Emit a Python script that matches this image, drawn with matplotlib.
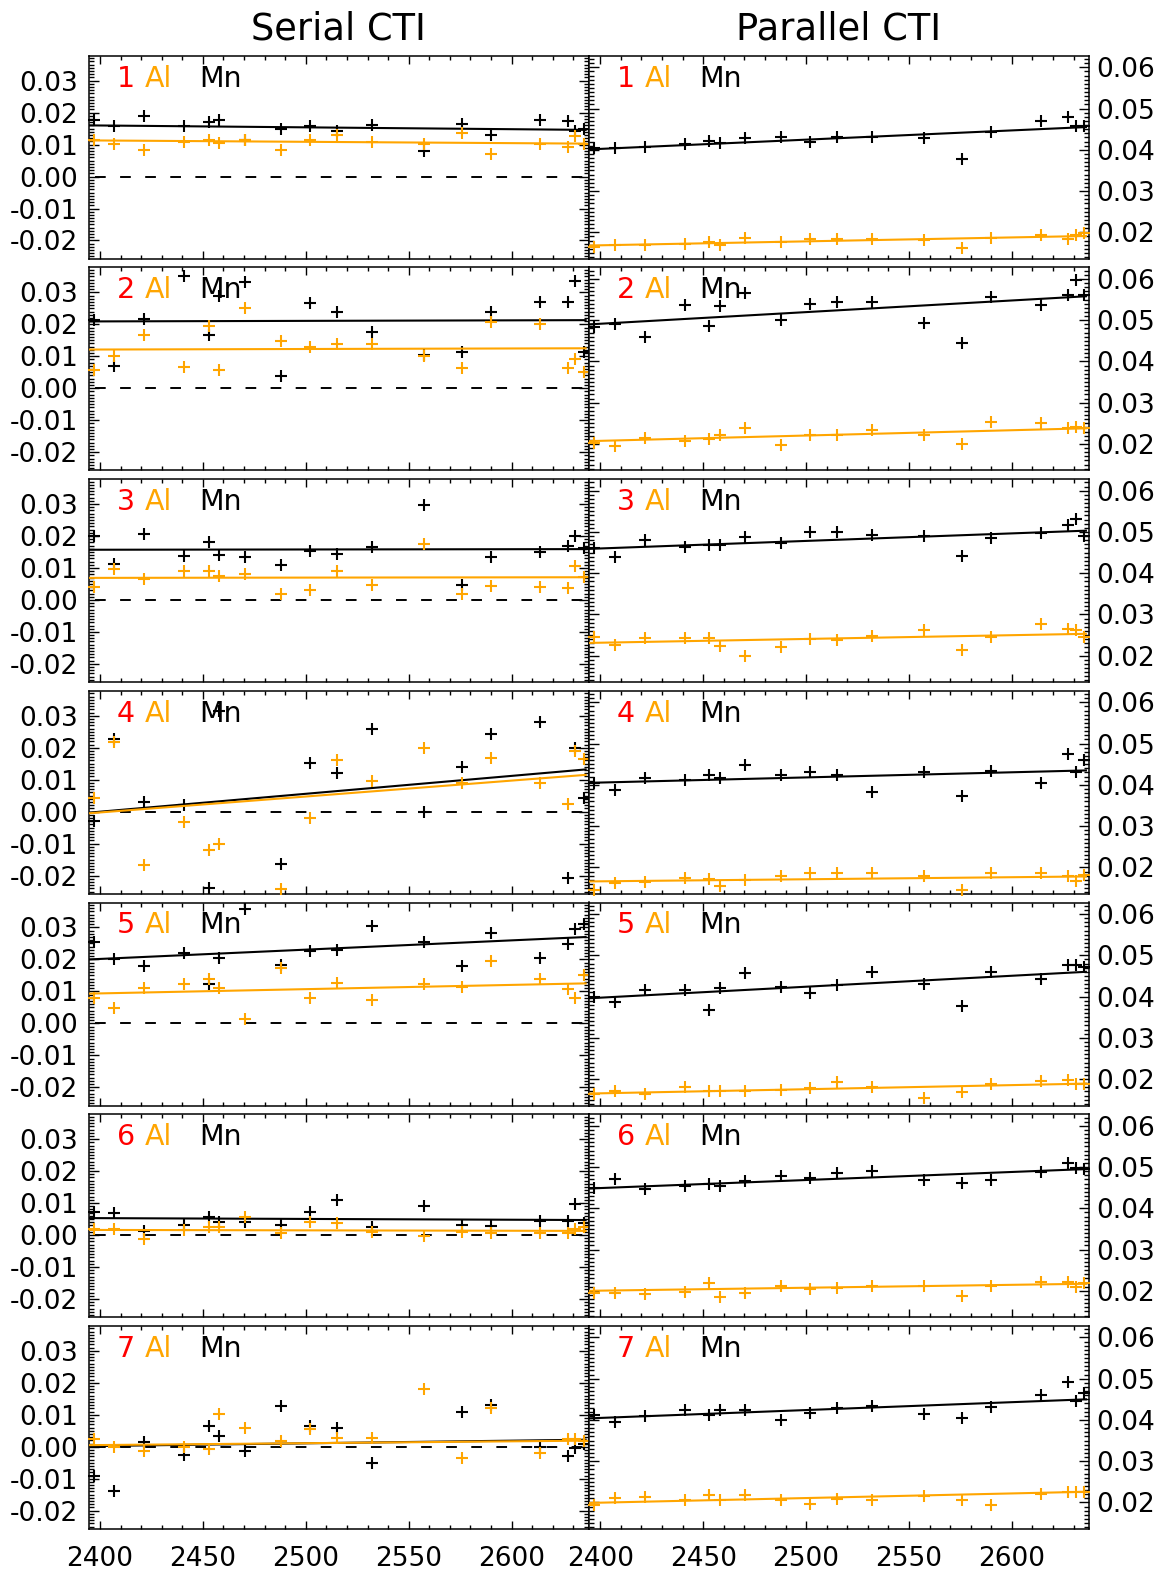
import numpy as np
import matplotlib
matplotlib.use("Agg")
import matplotlib.pyplot as plt
from matplotlib.ticker import MultipleLocator, FuncFormatter

plt.rcParams['font.family'] = ['DejaVu Sans']
plt.rcParams['axes.unicode_minus'] = False

nan = np.nan

# observation dates (same for every panel)
dates = [2397, 2407, 2421.5, 2441, 2453, 2458, 2470.5, 2488, 2502, 2515,
         2532, 2557.5, 2576, 2590, 2614, 2627.5, 2631, 2635]

# serial CTI, Mn (black)
serial_mn = [
    [0.0178, 0.0157, 0.0188, 0.0158, 0.0170, 0.0178, 0.0113, 0.0149, 0.0157, 0.0144, 0.0160, 0.0081, 0.0165, 0.0130, 0.0178, 0.0175, 0.0144, 0.0148],
    [0.0215, 0.0069, 0.0217, 0.0350, 0.0165, 0.0290, 0.0333, 0.0038, 0.0267, 0.0240, 0.0177, 0.0104, 0.0113, 0.0238, 0.0271, 0.0269, 0.0336, 0.0113],
    [0.0201, 0.0113, 0.0206, 0.0136, 0.0180, 0.0141, 0.0133, 0.0109, 0.0154, 0.0144, 0.0165, 0.0297, 0.0047, 0.0133, 0.0151, 0.0170, 0.0199, 0.0161],
    [-0.0029, 0.0226, 0.0031, 0.0021, -0.0240, 0.0315, nan, -0.0165, 0.0153, 0.0122, 0.0257, 0.0000, 0.0140, 0.0242, 0.0281, -0.0208, 0.0198, 0.0042],
    [0.0255, 0.0200, 0.0179, 0.0221, 0.0122, 0.0203, 0.0359, 0.0182, 0.0226, 0.0228, 0.0304, 0.0255, 0.0179, 0.0283, 0.0203, 0.0247, 0.0294, 0.0310],
    [0.0072, 0.0069, 0.0013, 0.0031, 0.0057, 0.0041, 0.0041, 0.0031, 0.0072, 0.0110, 0.0025, 0.0091, 0.0031, 0.0028, 0.0044, 0.0044, 0.0097, 0.0038],
    [-0.0091, -0.0138, 0.0014, -0.0025, 0.0065, 0.0035, -0.0013, 0.0126, 0.0066, 0.0059, -0.0052, nan, 0.0108, 0.0132, 0.0000, -0.0028, -0.0004, 0.0010],
]

# serial CTI, Al (orange)
serial_al = [
    [0.0115, 0.0102, 0.0084, 0.0108, 0.0115, 0.0105, 0.0113, 0.0084, 0.0113, 0.0130, 0.0108, 0.0102, 0.0136, 0.0071, 0.0102, 0.0092, 0.0128, 0.0102],
    [0.0058, 0.0102, 0.0167, 0.0066, 0.0194, 0.0058, 0.0250, 0.0148, 0.0128, 0.0139, 0.0139, 0.0102, 0.0063, 0.0208, 0.0201, 0.0063, 0.0090, 0.0050],
    [0.0040, 0.0097, 0.0064, 0.0092, 0.0092, 0.0074, 0.0081, 0.0019, 0.0032, 0.0089, 0.0047, 0.0175, 0.0019, 0.0043, 0.0040, 0.0036, 0.0107, 0.0071],
    [0.0042, 0.0219, -0.0167, -0.0031, -0.0121, -0.0100, nan, -0.0243, -0.0021, 0.0160, 0.0096, 0.0198, 0.0091, 0.0169, 0.0091, 0.0023, 0.0190, 0.0164],
    [0.0078, 0.0049, 0.0109, 0.0124, 0.0138, 0.0109, 0.0013, 0.0172, 0.0080, 0.0127, 0.0072, 0.0124, 0.0114, 0.0195, 0.0138, 0.0106, 0.0080, 0.0151],
    [0.0019, 0.0019, -0.0013, 0.0016, 0.0025, 0.0025, 0.0057, 0.0006, 0.0041, 0.0038, 0.0009, -0.0003, 0.0009, 0.0006, 0.0006, 0.0006, 0.0019, 0.0025],
    [0.0024, -0.0002, -0.0013, -0.0002, -0.0007, 0.0101, 0.0058, 0.0017, 0.0055, 0.0027, 0.0026, 0.0181, -0.0036, 0.0121, -0.0021, 0.0024, 0.0024, 0.0019],
]

# parallel CTI, Mn (black)
parallel_mn = [
    [0.0404, 0.0404, 0.0406, 0.0414, 0.0422, 0.0417, 0.0428, 0.0432, 0.0420, 0.0432, 0.0432, 0.0428, 0.0378, 0.0444, 0.0470, 0.0480, 0.0458, 0.0458],
    [0.0484, 0.0492, 0.0460, 0.0538, 0.0487, 0.0535, 0.0566, 0.0500, 0.0540, 0.0544, 0.0544, 0.0494, 0.0445, 0.0556, 0.0536, 0.0560, 0.0597, 0.0560],
    [0.0460, 0.0440, 0.0481, 0.0463, 0.0469, 0.0469, 0.0487, 0.0474, 0.0501, 0.0501, 0.0493, 0.0490, 0.0442, 0.0485, 0.0498, 0.0517, 0.0531, 0.0489],
    [0.0405, 0.0387, 0.0416, 0.0413, 0.0425, 0.0416, 0.0448, 0.0424, 0.0430, 0.0425, 0.0383, 0.0432, 0.0373, 0.0434, 0.0405, 0.0474, 0.0430, 0.0460],
    [0.0400, 0.0387, 0.0417, 0.0417, 0.0368, 0.0421, 0.0457, 0.0422, 0.0408, 0.0429, 0.0460, 0.0430, 0.0378, 0.0460, 0.0443, 0.0476, 0.0476, 0.0471],
    [0.0448, 0.0470, 0.0446, 0.0453, 0.0458, 0.0453, 0.0465, 0.0478, 0.0473, 0.0485, 0.0490, 0.0468, 0.0461, 0.0468, 0.0487, 0.0509, 0.0497, 0.0495],
    [0.0413, 0.0396, 0.0409, 0.0425, 0.0413, 0.0423, 0.0423, 0.0401, 0.0417, 0.0428, 0.0434, 0.0415, 0.0404, 0.0431, 0.0460, 0.0492, 0.0447, 0.0466],
]

# parallel CTI, Al (orange)
parallel_al = [
    [0.0165, 0.0169, 0.0169, 0.0172, 0.0176, 0.0168, 0.0185, 0.0176, 0.0183, 0.0183, 0.0183, 0.0181, 0.0161, 0.0185, 0.0194, 0.0183, 0.0194, 0.0198],
    [0.0202, 0.0195, 0.0215, 0.0207, 0.0211, 0.0221, 0.0238, 0.0197, 0.0221, 0.0223, 0.0235, 0.0223, 0.0199, 0.0253, 0.0252, 0.0238, 0.0240, 0.0238],
    [0.0245, 0.0227, 0.0243, 0.0243, 0.0243, 0.0223, 0.0200, 0.0221, 0.0240, 0.0239, 0.0248, 0.0263, 0.0215, 0.0245, 0.0277, 0.0265, 0.0263, 0.0245],
    [0.0146, 0.0162, 0.0164, 0.0174, 0.0172, 0.0156, 0.0170, 0.0178, 0.0186, 0.0186, 0.0186, 0.0178, 0.0144, 0.0186, 0.0186, 0.0178, 0.0166, 0.0181],
    [0.0165, 0.0171, 0.0165, 0.0181, 0.0171, 0.0171, 0.0171, 0.0173, 0.0179, 0.0192, 0.0181, 0.0155, 0.0169, 0.0187, 0.0195, 0.0198, 0.0187, 0.0189],
    [0.0195, 0.0195, 0.0193, 0.0198, 0.0219, 0.0185, 0.0195, 0.0212, 0.0205, 0.0207, 0.0212, 0.0212, 0.0188, 0.0212, 0.0222, 0.0222, 0.0210, 0.0219],
    [0.0194, 0.0210, 0.0214, 0.0205, 0.0217, 0.0205, 0.0218, 0.0207, 0.0197, 0.0209, 0.0205, 0.0215, 0.0205, 0.0194, 0.0221, 0.0226, 0.0226, 0.0226],
]

# linear fits, value at start / end of the date range
fit_x = [2395, 2636]
serial_mn_fit = [[0.0160, 0.0146], [0.0209, 0.0213], [0.0157, 0.0159], [-0.0003, 0.0132],
                 [0.0200, 0.0270], [0.0053, 0.0047], [0.0002, 0.0022]]
serial_al_fit = [[0.0113, 0.0103], [0.0121, 0.0125], [0.0069, 0.0071], [-0.0005, 0.0115],
                 [0.0093, 0.0125], [0.0016, 0.0013], [0.0005, 0.0019]]
parallel_mn_fit = [[0.0401, 0.0455], [0.0490, 0.0558], [0.0459, 0.0503], [0.0405, 0.0435],
                   [0.0396, 0.0460], [0.0448, 0.0495], [0.0404, 0.0450]]
parallel_al_fit = [[0.0168, 0.0191], [0.0207, 0.0238], [0.0231, 0.0253], [0.0166, 0.0178],
                   [0.0165, 0.0189], [0.0200, 0.0217], [0.0199, 0.0226]]

titles = ['Serial CTI', 'Parallel CTI']
ORANGE = '#FFA500'

W, H = 1164, 1575
fig = plt.figure(figsize=(W / 100, H / 100), dpi=100)

col_x0 = [88.7, 589.0]
col_w = 500.0
top0 = 55.7
pitch = 211.7
ph = 203.0
xlim = (2394.5, 2637.5)
ylims = [(-0.0257, 0.0378), (0.0136, 0.0628)]


def fmt(v, pos):
    if abs(v) < 1e-9:
        v = 0.0
    return f"{v:.2f}"


for r in range(7):
    top = top0 + r * pitch
    for c in range(2):
        ax = fig.add_axes([col_x0[c] / W, 1 - (top + ph) / H, col_w / W, ph / H])
        ax.set_xlim(*xlim)
        ax.set_ylim(*ylims[c])

        if c == 0:
            mn, al = serial_mn[r], serial_al[r]
            mnf, alf = serial_mn_fit[r], serial_al_fit[r]
            ax.axhline(0, color='k', lw=1.4, ls=(9.8, (5.5, 7.4)), zorder=2)
        else:
            mn, al = parallel_mn[r], parallel_al[r]
            mnf, alf = parallel_mn_fit[r], parallel_al_fit[r]

        ax.plot(dates, mn, ls='none', marker='+', ms=9.2, mew=1.5, color='k',
                clip_on=False, zorder=4)
        ax.plot(fit_x, mnf, color='k', lw=1.5, zorder=5)
        ax.plot(dates, al, ls='none', marker='+', ms=9.2, mew=1.5, color=ORANGE,
                clip_on=False, zorder=6)
        ax.plot(fit_x, alf, color=ORANGE, lw=1.5, zorder=7)

        # panel label
        ax.text(0.056, 0.848, str(r + 1), color='red', fontsize=20.5,
                transform=ax.transAxes, va='baseline', zorder=3)
        ax.text(0.112, 0.848, 'Al', color=ORANGE, fontsize=20.5,
                transform=ax.transAxes, va='baseline', zorder=3)
        ax.text(0.2205, 0.848, 'Mn', color='k', fontsize=20.5,
                transform=ax.transAxes, va='baseline', zorder=3)

        ax.xaxis.set_major_locator(MultipleLocator(50))
        ax.xaxis.set_minor_locator(MultipleLocator(10))
        ax.yaxis.set_major_locator(MultipleLocator(0.01))
        ax.yaxis.set_minor_locator(MultipleLocator(0.001))
        ax.yaxis.set_major_formatter(FuncFormatter(fmt))

        ax.tick_params(which='both', direction='in', top=True, right=True,
                       colors='k', width=1.0, labelsize=19)
        ax.tick_params(axis='y', which='major', length=7.5)
        ax.tick_params(axis='y', which='minor', length=3.6)
        ax.tick_params(axis='x', which='major', length=6)
        ax.tick_params(axis='x', which='minor', length=3)
        ax.tick_params(axis='x', pad=12.5, labelbottom=(r == 6))
        if c == 0:
            ax.tick_params(axis='y', labelleft=True, labelright=False, pad=7.8)
        else:
            ax.tick_params(axis='y', labelleft=False, labelright=True, pad=5.5)

        for s in ax.spines.values():
            s.set_linewidth(1.1)

        if r == 0:
            fig.text((col_x0[c] + col_w / 2) / W, 1 - 40 / H, titles[c],
                     ha='center', va='baseline', fontsize=26.5)

fig.savefig('out.png', dpi=100)
